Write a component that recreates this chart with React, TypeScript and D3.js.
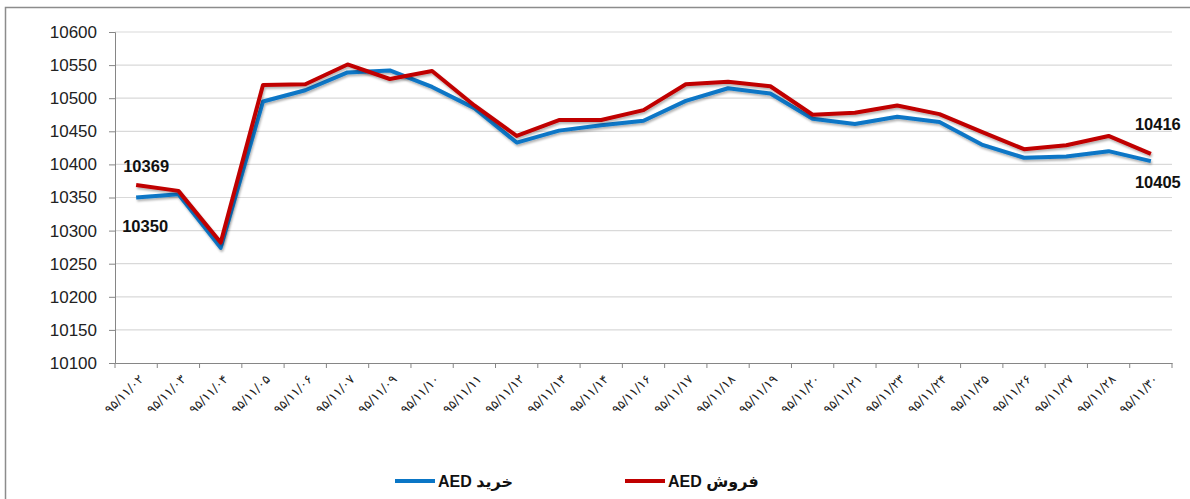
import React, { useRef, useEffect } from 'react'
import * as d3 from 'd3'

const dates = ['۹۵/۱۱/۰۲', '۹۵/۱۱/۰۳', '۹۵/۱۱/۰۴', '۹۵/۱۱/۰۵', '۹۵/۱۱/۰۶', '۹۵/۱۱/۰۷', '۹۵/۱۱/۰۹', '۹۵/۱۱/۱۰', '۹۵/۱۱/۱۱', '۹۵/۱۱/۱۲', '۹۵/۱۱/۱۳', '۹۵/۱۱/۱۴', '۹۵/۱۱/۱۶', '۹۵/۱۱/۱۷', '۹۵/۱۱/۱۸', '۹۵/۱۱/۱۹', '۹۵/۱۱/۲۰', '۹۵/۱۱/۲۱', '۹۵/۱۱/۲۳', '۹۵/۱۱/۲۴', '۹۵/۱۱/۲۵', '۹۵/۱۱/۲۶', '۹۵/۱۱/۲۷', '۹۵/۱۱/۲۸', '۹۵/۱۱/۳۰']

// خرید AED
const buy = [10350, 10355, 10274, 10495, 10512, 10539, 10542, 10517, 10485, 10433, 10451, 10459, 10466, 10496, 10515, 10507, 10469, 10461, 10472, 10464, 10430, 10410, 10412, 10420, 10405]
// فروش AED
const sell = [10369, 10360, 10282, 10520, 10521, 10551, 10529, 10541, 10489, 10443, 10467, 10467, 10482, 10521, 10525, 10518, 10475, 10478, 10489, 10476, 10449, 10423, 10429, 10443, 10416]

const yTicks = [10100, 10150, 10200, 10250, 10300, 10350, 10400, 10450, 10500, 10550, 10600]

const seriesNames = ['AED خرید', 'AED فروش']

const FONT = '"Liberation Sans", "DejaVu Sans", sans-serif'

export default function App() {
  const ref = useRef<SVGSVGElement>(null)

  useEffect(() => {
    const svg = d3.select(ref.current)
    svg.selectAll('*').remove()

    const margin = { top: 32, left: 115, right: 18, bottom: 136 }
    const W = 1190, H = 499
    const width = W - margin.left - margin.right
    const height = H - margin.top - margin.bottom

    // outer frame
    svg.append('rect')
      .attr('x', 5.5).attr('y', 7.5)
      .attr('width', W + 10).attr('height', H + 10)
      .attr('fill', 'white').attr('stroke', '#8c8c8c').attr('stroke-width', 1.5)

    const defs = svg.append('defs')
    const f = defs.append('filter').attr('id', 'shadow')
      .attr('x', '-5%').attr('y', '-20%').attr('width', '110%').attr('height', '140%')
    f.append('feDropShadow').attr('dx', 1).attr('dy', 2).attr('stdDeviation', 1.3)
      .attr('flood-color', '#000').attr('flood-opacity', 0.3)

    const g = svg.append('g').attr('transform', `translate(${margin.left},${margin.top})`)

    const x = d3.scaleBand().domain(dates).range([0, width])
    const y = d3.scaleLinear().domain([10100, 10600]).range([height, 0])
    const cx = (i: number) => (x(dates[i]) as number) + x.bandwidth() / 2

    // grid
    g.append('g').selectAll('line').data(yTicks.slice(1)).enter().append('line')
      .attr('x1', 0).attr('x2', width)
      .attr('y1', d => y(d)).attr('y2', d => y(d))
      .attr('stroke', '#d9d9d9').attr('stroke-width', 1.2)

    // y axis
    const ya = g.append('g').call(d3.axisLeft(y).tickValues(yTicks).tickSize(6).tickPadding(12).tickFormat(d3.format('d')))
    ya.select('.domain').attr('stroke', '#868686')
    ya.selectAll('.tick line').attr('stroke', '#868686')
    ya.selectAll('text').attr('font-family', FONT).attr('font-size', 17).attr('fill', '#222')

    // x axis
    const xa = g.append('g').attr('transform', `translate(0,${height})`)
      .call(d3.axisBottom(x).tickSize(0).tickFormat(() => ''))
    xa.select('.domain').attr('stroke', '#868686')
    xa.append('g').selectAll('line').data(d3.range(dates.length + 1)).enter().append('line')
      .attr('x1', i => i * x.step()).attr('x2', i => i * x.step())
      .attr('y1', 0).attr('y2', 5).attr('stroke', '#868686')
    xa.append('g').selectAll('text').data(dates).enter().append('text')
      .attr('transform', d => `translate(${(x(d) as number) + x.bandwidth() / 2 + 8},${17}) rotate(-45)`)
      .attr('text-anchor', 'end')
      .attr('font-family', '"DejaVu Sans", sans-serif')
      .attr('font-size', 12.5)
      .attr('letter-spacing', 2.4)
      .attr('fill', '#222')
      .text(d => d)

    const line = d3.line<number>().x((_, i) => cx(i)).y(d => y(d))

    g.append('path').datum(buy).attr('d', line).attr('fill', 'none')
      .attr('stroke', '#0a76c6').attr('stroke-width', 4).attr('stroke-linejoin', 'round')
      .attr('filter', 'url(#shadow)')
    g.append('path').datum(sell).attr('d', line).attr('fill', 'none')
      .attr('stroke', '#c00000').attr('stroke-width', 4).attr('stroke-linejoin', 'round')
      .attr('filter', 'url(#shadow)')

    // data labels
    const last = dates.length - 1
    const labels = [
      { v: sell[0], x: cx(0) + 10, y: y(sell[0]) - 13 },
      { v: buy[0], x: cx(0) + 9, y: y(buy[0]) + 34 },
      { v: sell[last], x: cx(last) + 7, y: y(sell[last]) - 24 },
      { v: buy[last], x: cx(last) + 7, y: y(buy[last]) + 27 },
    ]
    g.append('g').selectAll('text').data(labels).enter().append('text')
      .attr('x', d => d.x).attr('y', d => d.y)
      .attr('text-anchor', 'middle')
      .attr('font-family', FONT).attr('font-weight', 'bold').attr('font-size', 16.5)
      .attr('fill', '#111')
      .text(d => d.v)

    // legend
    const legend = svg.append('g').attr('transform', 'translate(0,481)')
    const legendItems = [
      { name: seriesNames[0], color: '#0a76c6', x: 395 },
      { name: seriesNames[1], color: '#c00000', x: 625 },
    ]
    const li = legend.selectAll('g').data(legendItems).enter().append('g')
      .attr('transform', d => `translate(${d.x},0)`)
    li.append('line').attr('x1', 0).attr('x2', 40).attr('y1', 0).attr('y2', 0)
      .attr('stroke', d => d.color).attr('stroke-width', 4)
    li.append('text').attr('x', 43).attr('y', 6)
      .attr('font-family', FONT).attr('font-weight', 'bold').attr('font-size', 16)
      .attr('fill', '#111')
      .text(d => d.name)
  }, [])

  return (
    <svg
      ref={ref}
      width={1190}
      height={499}
      style={{ position: 'absolute', left: 0, top: 0, background: 'white' }}
    />
  )
}
